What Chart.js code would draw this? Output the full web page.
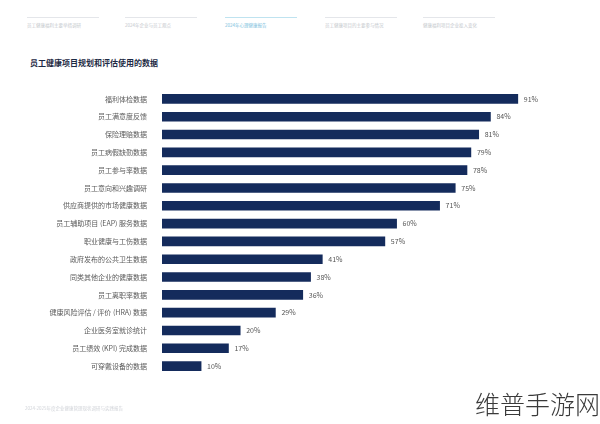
<!DOCTYPE html>
<html>
<head>
<meta charset="utf-8">
<script src="https://cdn.jsdelivr.net/npm/chart.js@4/dist/chart.umd.min.js"></script>
<style>
  body { margin: 0; background: #fff; font-family: "Noto Sans CJK SC", "Noto Sans", sans-serif; }
  #wrap { position: relative; width: 600px; height: 424px; overflow: hidden; }
  canvas { position: absolute; left: 0; top: 0; }
  .tab { position: absolute; top: 17px; width: 72px; border-top: 1px solid #e4e6ea; font-size: 4.5px; color: #c4c7cc; padding-top: 4px; white-space: nowrap; }
  .tab.on { border-top-color: #bfe3f0; color: #7cc0dc; }
  #title { position: absolute; left: 30px; top: 57px; font-size: 8px; font-weight: bold; color: #1d2a44; }
  #foot { position: absolute; left: 25px; top: 405px; font-size: 4.5px; color: #d0d3d8; }
  #mark { position: absolute; left: 475px; top: 385px; font-size: 25px; font-weight: 300; color: #3a3a3a; white-space: nowrap; }
</style>
</head>
<body>
<div id="wrap">
  <div class="tab" style="left:27px">员工健康福利主要举措调研</div>
  <div class="tab" style="left:125px">2024年企业与员工观点</div>
  <div class="tab on" style="left:225px">2024年心理健康报告</div>
  <div class="tab" style="left:325px">员工健康项目的主要参与情况</div>
  <div class="tab" style="left:423px">健康福利项目企业投入变化</div>
  <div id="title">员工健康项目规划和评估使用的数据</div>
  <canvas id="chart" width="600" height="424"></canvas>
  <div id="foot">2024-2025年度企业健康管理现状调研与实践报告</div>
  <div id="mark">维普手游网</div>
</div>
<script>
const categories = [
  "福利体检数据",
  "员工满意度反馈",
  "保险理赔数据",
  "员工病假缺勤数据",
  "员工参与率数据",
  "员工意向和兴趣调研",
  "供应商提供的市场健康数据",
  "员工辅助项目 (EAP) 服务数据",
  "职业健康与工伤数据",
  "政府发布的公共卫生数据",
  "同类其他企业的健康数据",
  "员工离职率数据",
  "健康风险评估 / 评价 (HRA) 数据",
  "企业医务室就诊统计",
  "员工绩效 (KPI) 完成数据",
  "可穿戴设备的数据"
];
const values = [91, 84, 81, 79, 78, 75, 71, 60, 57, 41, 38, 36, 29, 20, 17, 10];

const valueLabels = {
  id: "valueLabels",
  afterDatasetsDraw(chart) {
    const ctx = chart.ctx;
    const meta = chart.getDatasetMeta(0);
    ctx.save();
    ctx.font = "7px 'Noto Sans CJK SC', sans-serif";
    ctx.fillStyle = "#555";
    ctx.textBaseline = "middle";
    meta.data.forEach((bar, i) => {
      ctx.fillText(values[i] + "%", bar.x + 6, bar.y);
    });
    ctx.restore();
  }
};

new Chart(document.getElementById("chart"), {
  type: "bar",
  data: {
    labels: categories,
    datasets: [{ data: values, backgroundColor: "#142b5c", barThickness: 9 }]
  },
  options: {
    indexAxis: "y",
    responsive: false,
    animation: false,
    layout: { padding: { top: 90, bottom: 49, right: 47, left: 0 } },
    plugins: { legend: { display: false }, tooltip: { enabled: false } },
    scales: {
      x: { min: 0, max: 100, display: false },
      y: {
        grid: { display: false },
        border: { display: false },
        ticks: { color: "#5a5a5a", font: { size: 7, family: "'Noto Sans CJK SC', sans-serif" }, padding: 7 },
        afterFit(scale) { scale.width = 162; }
      }
    }
  },
  plugins: [valueLabels]
});
</script>
</body>
</html>
